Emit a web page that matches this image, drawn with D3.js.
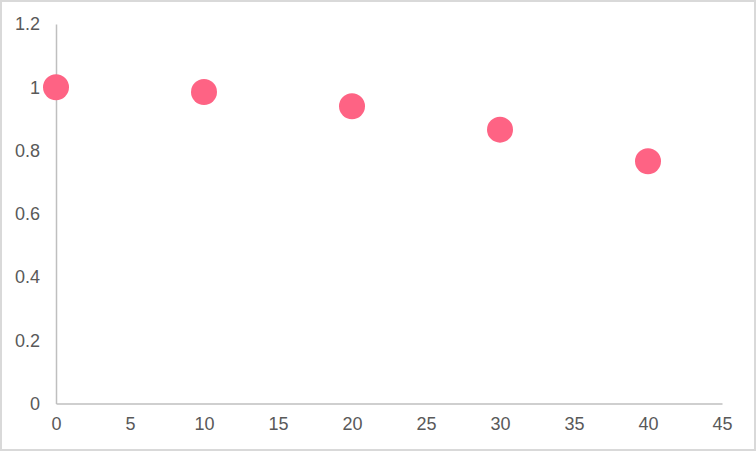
<!DOCTYPE html>
<html>
<head>
<meta charset="utf-8">
<script src="https://cdn.jsdelivr.net/npm/d3@7"></script>
<style>
  body { margin: 0; background: #fff; }
  svg { display: block; font-family: 'Liberation Sans', Arial, sans-serif; }
</style>
</head>
<body>
<div class="graphic_container"></div>
<script>
// data
const xValues = [0, 10, 20, 30, 40];
const yValues = [1, 0.985, 0.94, 0.866, 0.766];
const xTicks = [0, 5, 10, 15, 20, 25, 30, 35, 40, 45];
const yTicks = [0, 0.2, 0.4, 0.6, 0.8, 1, 1.2];

const width = 756, height = 451;
const margin = {left: 56, right: 34, top: 24, bottom: 47.5};

const svg = d3.select('.graphic_container')
  .append('svg')
  .attr('width', width)
  .attr('height', height);

// chart border
svg.append('rect')
  .attr('x', 1).attr('y', 1)
  .attr('width', width - 2).attr('height', height - 2)
  .attr('fill', '#fff')
  .attr('stroke', '#d9d9d9')
  .attr('stroke-width', 2);

const x = d3.scaleLinear()
  .domain([0, 45])
  .range([margin.left, width - margin.right]);

const y = d3.scaleLinear()
  .domain([0, 1.2])
  .range([height - margin.bottom, margin.top]);

const xAxis = svg.append('g')
  .attr('transform', `translate(0,${y(0)})`)
  .call(d3.axisBottom(x).tickValues(xTicks).tickSize(0).tickPadding(14).tickFormat(d3.format('')));

const yAxis = svg.append('g')
  .attr('transform', `translate(${x(0)},0)`)
  .call(d3.axisLeft(y).tickValues(yTicks).tickSize(0).tickPadding(16).tickFormat(d3.format('')));

[xAxis, yAxis].forEach(a => {
  a.select('.domain').attr('stroke', '#bfbfbf').attr('stroke-width', 1.5);
  a.selectAll('text')
    .attr('fill', '#595959')
    .style('font-size', '18px')
    .style('font-family', "'Liberation Sans', Arial, sans-serif");
});

// points
svg.append('g')
  .selectAll('circle')
  .data(xValues.map((d, i) => ({x: d, y: yValues[i]})))
  .join('circle')
  .attr('cx', d => x(d.x))
  .attr('cy', d => y(d.y))
  .attr('r', 13)
  .attr('fill', '#fe6384');
</script>
</body>
</html>
